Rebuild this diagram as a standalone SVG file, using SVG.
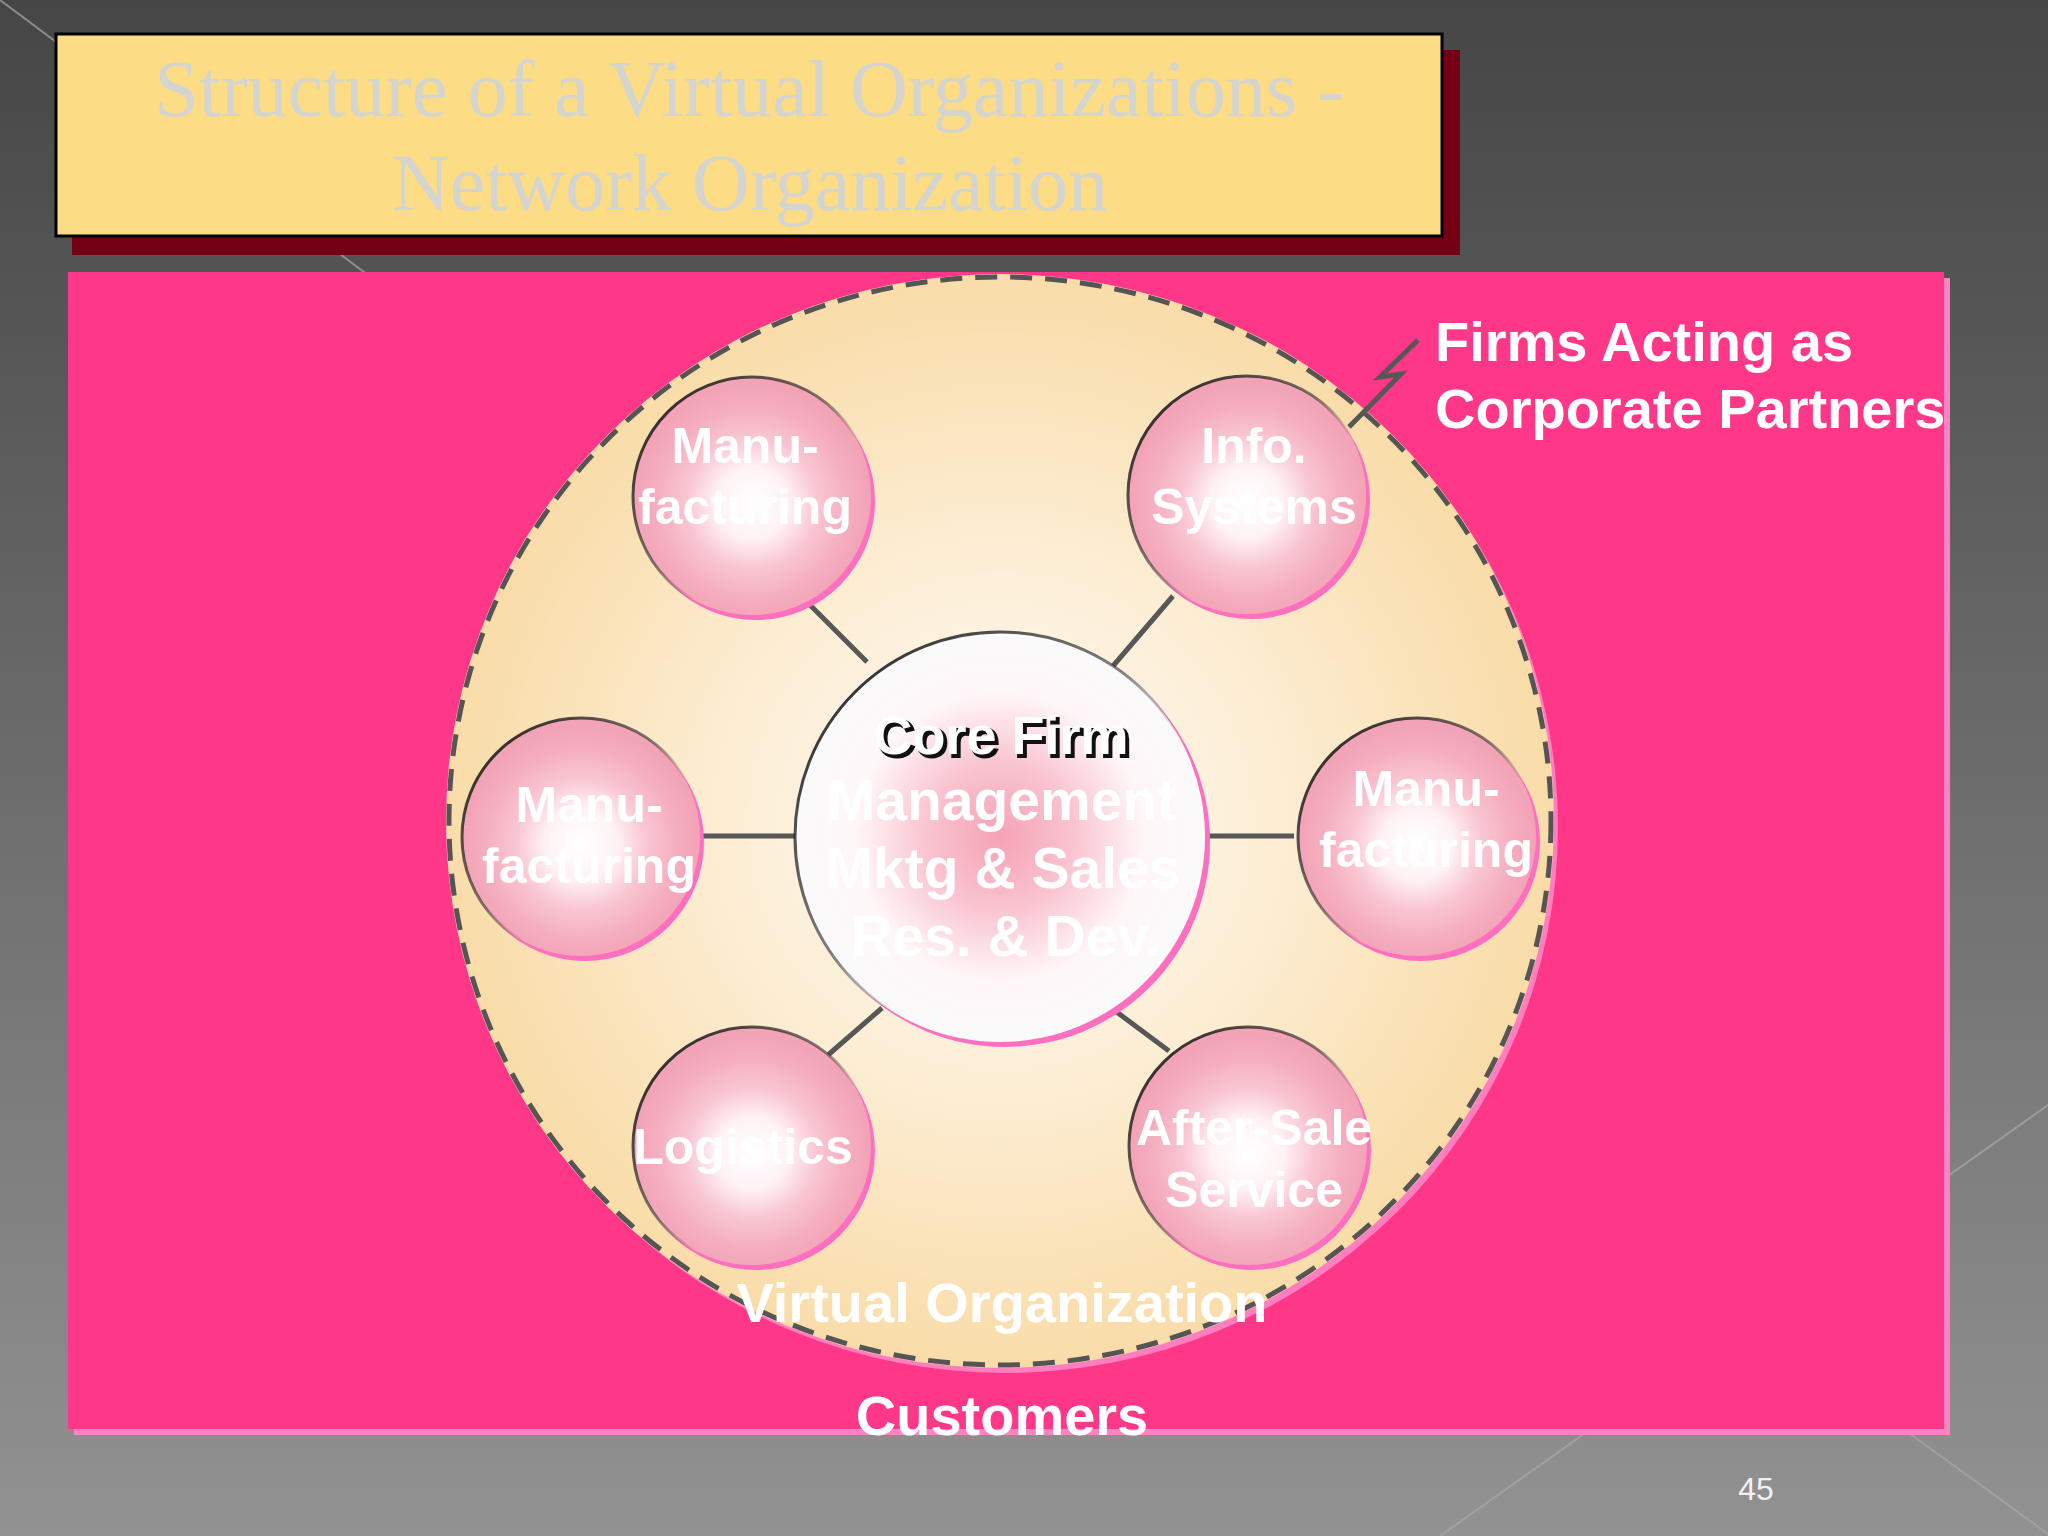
<svg xmlns="http://www.w3.org/2000/svg" width="2048" height="1536" viewBox="0 0 2048 1536">
  <defs>
    <linearGradient id="bg" x1="0" y1="0" x2="0" y2="1">
      <stop offset="0" stop-color="#464646"/>
      <stop offset="1" stop-color="#929292"/>
    </linearGradient>
    <radialGradient id="vorg" cx="0.5" cy="0.5" r="0.5">
      <stop offset="0" stop-color="#fffcf6"/>
      <stop offset="0.45" stop-color="#fdefd8"/>
      <stop offset="1" stop-color="#f9dca8"/>
    </radialGradient>
    <radialGradient id="bubble" cx="0.5" cy="0.53" r="0.5">
      <stop offset="0" stop-color="#ffffff"/>
      <stop offset="0.3" stop-color="#fff2f5"/>
      <stop offset="0.55" stop-color="#f9c6d2"/>
      <stop offset="0.8" stop-color="#f5aebf"/>
      <stop offset="1" stop-color="#f2a3b6"/>
    </radialGradient>
    <radialGradient id="core" cx="0.5" cy="0.5" r="0.5">
      <stop offset="0" stop-color="#f5a2b4"/>
      <stop offset="0.35" stop-color="#f9c3cf"/>
      <stop offset="0.7" stop-color="#fff6f8"/>
      <stop offset="1" stop-color="#fafafa"/>
    </radialGradient>
    <linearGradient id="rim" x1="0" y1="0" x2="1" y2="1">
      <stop offset="0" stop-color="#111111" stop-opacity="1"/>
      <stop offset="0.45" stop-color="#333333" stop-opacity="0.6"/>
      <stop offset="0.6" stop-color="#333333" stop-opacity="0"/>
    </linearGradient>
    <style>
      .lbl { font-family: "Liberation Sans", Arial, Helvetica, sans-serif; font-weight: bold; fill: #ffffff; text-anchor: middle; }
      .sm { font-size: 50px; }
      .big { font-size: 56px; }
      .corelbl { font-size: 57px; }
      .title { font-family: "Liberation Serif", "Times New Roman", serif; font-size: 80px; fill: #d4d4d0; text-anchor: middle; }
      .sh { fill: #ff6fc0; }
      .bub { fill: url(#bubble); stroke: url(#rim); stroke-width: 3; }
      .conn { stroke: #575757; stroke-width: 5; fill: none; stroke-linecap: butt; }
      .deco { stroke: #a8a8a8; stroke-width: 2; fill: none; opacity: 0.7; }
    </style>
  </defs>

  <!-- background -->
  <rect x="0" y="0" width="2048" height="1536" fill="url(#bg)"/>
  <g id="decor">
    <line class="deco" x1="0" y1="0" x2="380" y2="284"/>
    <line class="deco" x1="2048" y1="1105" x2="1440" y2="1536"/>
    <line class="deco" x1="1880" y1="1412" x2="2048" y2="1534"/>
  </g>

  <!-- title -->
  <g id="title">
    <rect x="72" y="50" width="1388" height="205" fill="#750015"/>
    <rect x="56" y="34" width="1386" height="202" fill="#fcdd86" stroke="#000000" stroke-width="3"/>
    <text class="title" x="749" y="116">Structure of a Virtual Organizations -</text>
    <text class="title" x="750" y="210">Network Organization</text>
  </g>

  <!-- customers area -->
  <g id="customers">
    <rect x="74" y="278" width="1876" height="1157" fill="#ff82c2"/>
    <rect x="68" y="272" width="1876" height="1157" fill="#ff3789"/>
    <text class="lbl big" x="1002" y="1435">Customers</text>
  </g>

  <!-- virtual organization -->
  <g id="virtual-org">
    <ellipse cx="1005" cy="827" rx="553" ry="546" fill="#ff7ec0"/>
    <ellipse cx="1000" cy="821" rx="554" ry="547" fill="url(#vorg)"/>
    <ellipse cx="1000" cy="821" rx="551" ry="544" fill="none" stroke="#555555" stroke-width="5" stroke-dasharray="22 13"/>
  </g>

  <!-- connectors -->
  <g id="connectors">
    <line class="conn" x1="807" y1="602" x2="867" y2="662"/>
    <line class="conn" x1="1173" y1="596" x2="1113" y2="666"/>
    <line class="conn" x1="700" y1="836" x2="797" y2="836"/>
    <line class="conn" x1="1198" y1="836" x2="1294" y2="836"/>
    <line class="conn" x1="828" y1="1055" x2="882" y2="1008"/>
    <line class="conn" x1="1114" y1="1010" x2="1169" y2="1051"/>
    <polyline class="conn" points="1418,340 1380,377 1401,374 1349,427" stroke="#666666"/>
  </g>

  <!-- core firm -->
  <g id="core-firm">
    <circle cx="1005" cy="842" r="205" class="sh"/>
    <circle cx="1000" cy="837" r="205" fill="url(#core)" stroke="url(#rim)" stroke-width="3"/>
    <text class="lbl" x="1004" y="757" font-size="54" style="fill:#111111" stroke="#111111" stroke-width="2">Core Firm</text>
    <text class="lbl" x="1001" y="754" font-size="54">Core Firm</text>
    <text class="lbl corelbl" x="1002" y="820">Management</text>
    <text class="lbl corelbl" x="1003" y="888">Mktg &amp; Sales</text>
    <text class="lbl corelbl" x="1006" y="956">Res. &amp; Dev.</text>
  </g>

  <!-- partner firms -->
  <g id="node-manufacturing-tl">
    <circle cx="756" cy="501" r="119" class="sh"/>
    <circle cx="752" cy="496" r="119" class="bub"/>
    <text class="lbl sm" x="745" y="463">Manu-</text>
    <text class="lbl sm" x="745" y="524">facturing</text>
  </g>
  <g id="node-info-systems">
    <circle cx="1251" cy="500" r="119" class="sh"/>
    <circle cx="1247" cy="495" r="119" class="bub"/>
    <text class="lbl sm" x="1254" y="463">Info.</text>
    <text class="lbl sm" x="1254" y="524">Systems</text>
  </g>
  <g id="node-manufacturing-l">
    <circle cx="585" cy="842" r="119" class="sh"/>
    <circle cx="581" cy="837" r="119" class="bub"/>
    <text class="lbl sm" x="589" y="822">Manu-</text>
    <text class="lbl sm" x="589" y="883">facturing</text>
  </g>
  <g id="node-manufacturing-r">
    <circle cx="1421" cy="842" r="119" class="sh"/>
    <circle cx="1417" cy="837" r="119" class="bub"/>
    <text class="lbl sm" x="1426" y="806">Manu-</text>
    <text class="lbl sm" x="1426" y="867">facturing</text>
  </g>
  <g id="node-logistics">
    <circle cx="756" cy="1151" r="119" class="sh"/>
    <circle cx="752" cy="1146" r="119" class="bub"/>
    <text class="lbl sm" x="743" y="1164">Logistics</text>
  </g>
  <g id="node-after-sale">
    <circle cx="1252" cy="1151" r="119" class="sh"/>
    <circle cx="1248" cy="1146" r="119" class="bub"/>
    <text class="lbl sm" x="1254" y="1145">After-Sale</text>
    <text class="lbl sm" x="1254" y="1207">Service</text>
  </g>

  <!-- labels -->
  <g id="labels">
    <text class="lbl big" x="1002" y="1322">Virtual Organization</text>
    <text class="lbl big" x="1435" y="361" style="text-anchor:start">Firms Acting as</text>
    <text class="lbl big" x="1435" y="428" style="text-anchor:start">Corporate Partners</text>
    <text x="1756" y="1500" font-family="Liberation Sans, Arial, sans-serif" font-size="32" fill="#f2f2f2" text-anchor="middle">45</text>
  </g>
</svg>
